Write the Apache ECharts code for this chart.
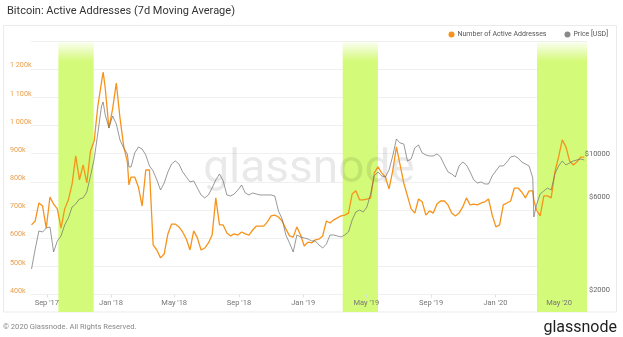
<!DOCTYPE html>
<html><head><meta charset="utf-8">
<script src="https://cdn.jsdelivr.net/npm/echarts@6/dist/echarts.min.js"></script>
<style>html,body{margin:0;padding:0;background:#fff}#c{width:623px;height:337px}</style>
</head><body><div id="c"></div>
<script>
const dates = [
'2017-08-03','2017-08-10','2017-08-17','2017-08-24','2017-08-31','2017-09-07','2017-09-14','2017-09-21','2017-09-28','2017-10-05',
'2017-10-12','2017-10-19','2017-10-26','2017-11-02','2017-11-09','2017-11-16','2017-11-23','2017-11-30','2017-12-07','2017-12-14',
'2017-12-17','2017-12-21','2017-12-28','2018-01-04','2018-01-11','2018-01-18','2018-01-25','2018-02-01','2018-02-04','2018-02-08',
'2018-02-15','2018-02-22','2018-03-01','2018-03-08','2018-03-15','2018-03-22','2018-03-29','2018-04-05','2018-04-12','2018-04-19',
'2018-04-26','2018-05-03','2018-05-10','2018-05-17','2018-05-24','2018-05-31','2018-06-07','2018-06-14','2018-06-21','2018-06-28',
'2018-07-05','2018-07-12','2018-07-19','2018-07-26','2018-08-02','2018-08-09','2018-08-16','2018-08-23','2018-08-30','2018-09-06',
'2018-09-13','2018-09-20','2018-09-27','2018-10-04','2018-10-11','2018-10-18','2018-10-25','2018-11-01','2018-11-08','2018-11-15',
'2018-11-22','2018-11-29','2018-12-06','2018-12-13','2018-12-20','2018-12-27','2019-01-03','2019-01-10','2019-01-17','2019-01-24',
'2019-01-31','2019-02-07','2019-02-14','2019-02-21','2019-02-28','2019-03-07','2019-03-14','2019-03-21','2019-03-28','2019-04-04',
'2019-04-11','2019-04-18','2019-04-25','2019-05-02','2019-05-09','2019-05-16','2019-05-23','2019-05-30','2019-06-06','2019-06-13',
'2019-06-20','2019-06-27','2019-07-04','2019-07-11','2019-07-18','2019-07-25','2019-08-01','2019-08-08','2019-08-15','2019-08-22',
'2019-08-29','2019-09-05','2019-09-12','2019-09-19','2019-09-26','2019-10-03','2019-10-10','2019-10-17','2019-10-24','2019-10-31',
'2019-11-07','2019-11-14','2019-11-21','2019-11-28','2019-12-05','2019-12-12','2019-12-19','2019-12-26','2020-01-02','2020-01-09',
'2020-01-16','2020-01-23','2020-01-30','2020-02-06','2020-02-13','2020-02-20','2020-02-27','2020-03-05','2020-03-12','2020-03-14',
'2020-03-19','2020-03-26','2020-04-02','2020-04-09','2020-04-16','2020-04-23','2020-04-30','2020-05-07','2020-05-14','2020-05-21',
'2020-05-28','2020-06-04','2020-06-11','2020-06-18'
];
const activeAddresses = [
647000,661000,725000,714000,636000,746000,721000,704000,636000,704000,
736000,792000,892000,807000,860000,796000,910000,945000,1070000,1155000,
1190000,1133000,991000,1059000,1151000,1027000,927000,871000,789000,817000,
817000,782000,714000,842000,842000,576000,558000,530000,544000,615000,
650000,650000,640000,622000,597000,558000,626000,601000,558000,565000,
583000,611000,743000,647000,647000,618000,608000,615000,611000,622000,
615000,611000,629000,643000,643000,643000,658000,679000,682000,675000,
661000,633000,608000,604000,640000,611000,572000,586000,583000,594000,
597000,608000,661000,654000,665000,672000,679000,682000,689000,757000,
768000,736000,736000,739000,743000,832000,853000,832000,817000,775000,
839000,924000,860000,796000,750000,704000,689000,739000,729000,682000,
697000,689000,721000,732000,732000,718000,689000,679000,689000,711000,
743000,718000,721000,718000,725000,729000,739000,682000,640000,647000,
718000,725000,732000,778000,778000,764000,743000,768000,768000,736000,
700000,679000,750000,750000,743000,835000,888000,949000,924000,874000,
860000,871000,888000,888000
];
const priceUSD = [
2702,3420,4229,4178,4381,4433,3302,3758,3986,4538,
4930,5611,5816,6166,6240,6697,8090,9882,13427,18464,
19351,16604,14240,16408,14928,12364,11254,10484,8993,8993,
10608,11386,11117,10362,9099,8580,7717,6856,7448,8480,
9316,9652,9316,8480,7994,7534,7625,7020,6464,6240,
6464,7020,7717,8281,7625,6464,6389,6540,6856,7273,
6618,6464,6618,6540,6464,6464,6464,6464,6389,5354,
4871,4034,3670,3302,4034,3940,3894,3848,3758,3758,
3586,3460,3627,4034,4034,3986,3940,4034,4178,4814,
5291,5415,5291,5611,6540,8090,8480,8090,7994,8680,
10240,12511,11934,11795,9652,9882,11254,11658,10608,10362,
10240,10240,10484,10116,9208,8480,8281,7994,9099,9538,
9208,8480,7717,7448,7534,7360,7360,8090,8580,9099,
9099,9538,10116,10240,10000,9538,9316,9099,7900,4988,
5746,6540,6776,7020,6856,8281,9099,9652,9208,9426,
9652,9766,9882,9766
];
const xTickDates = ['2017-09-01','2018-01-01','2018-05-01','2018-09-01','2019-01-01','2019-05-01','2019-09-01','2020-01-01','2020-05-01'];
const addressTicks = [400000,500000,600000,700000,800000,900000,1000000,1100000,1200000];
const priceTicks = [2000,6000,10000];
const bands = [['2017-09-23','2017-11-29'],['2019-03-17','2019-05-23'],['2020-03-20','2020-06-23']];
const xRange = ['2017-08-02','2020-06-23'];

const ts = s => Date.parse(s + 'T00:00:00Z');
const MONTHS = ['Jan','Feb','Mar','Apr','May','Jun','Jul','Aug','Sep','Oct','Nov','Dec'];
function fmtDate(v){const d=new Date(v);return MONTHS[d.getUTCMonth()]+" '"+String(d.getUTCFullYear()).slice(2);}
function fmtK(v){const n=Math.round(v/1000);if(n>=1000){return Math.floor(n/1000)+' '+String(n%1000).padStart(3,'0')+'k';}return n+'k';}

const chart = echarts.init(document.getElementById('c'), null, {renderer:'canvas'});
const FONT = 'Roboto, "Noto Sans", sans-serif';
const bandColor = {type:'linear',x:0,y:0,x2:0,y2:1,colorStops:[
  {offset:0,color:'rgba(212,250,122,0.05)'},{offset:0.075,color:'rgba(212,250,122,1)'},{offset:1,color:'rgba(212,250,122,1)'}]};
const xTicksTs = xTickDates.map(ts);

chart.setOption({
  animation:false,
  textStyle:{fontFamily:FONT},
  title:{text:'Bitcoin: Active Addresses (7d Moving Average)',left:2,top:1,
    textStyle:{fontSize:11,fontWeight:'normal',color:'#333',fontFamily:FONT}},
  legend:{top:31,right:15,padding:0,itemWidth:6,itemHeight:6,itemGap:18,icon:'circle',
    textStyle:{fontSize:7,color:'#555',padding:[0,0,0,-2]},
    data:['Number of Active Addresses','Price [USD]']},
  grid:[
    {left:31,right:36,top:41,bottom:42.5},
    {left:31,right:36,top:41,bottom:25}
  ],
  xAxis:[
    {type:'value',gridIndex:0,min:ts(xRange[0]),max:ts(xRange[1]),z:10,
     axisLine:{show:false},
     axisTick:{show:true,customValues:xTicksTs,length:3,lineStyle:{color:'#e2e2e2'}},
     splitLine:{show:false},
     axisLabel:{customValues:xTicksTs,formatter:fmtDate,color:'#777',fontSize:7.5,margin:5,showMinLabel:true,showMaxLabel:true}},
    {type:'value',gridIndex:1,min:ts(xRange[0]),max:ts(xRange[1]),show:false}
  ],
  yAxis:[
    {type:'value',gridIndex:0,position:'left',min:400000,max:1300000,interval:100000,
     axisLine:{show:false},axisTick:{show:false},
     splitLine:{lineStyle:{color:'#f0f0f0',width:1}},
     axisLabel:{color:'#e9a04f',fontSize:7.2,align:'left',margin:21,verticalAlign:'bottom',
       formatter:v=>addressTicks.indexOf(v)>=0?fmtK(v):''}},
    {type:'log',gridIndex:0,position:'right',min:2000,max:39700,logBase:10,z:10,
     axisLine:{show:false},axisTick:{show:false},splitLine:{show:false},
     axisLabel:{customValues:priceTicks,color:'#666',fontSize:7.5,align:'right',margin:23,verticalAlign:'bottom',
       formatter:v=>'$'+Math.round(v)}},
    {type:'value',gridIndex:1,min:0,max:1,show:false}
  ],
  graphic:[
    {type:'rect',shape:{x:3.5,y:25.5,width:613,height:286.5},style:{fill:'none',stroke:'#ebebeb',lineWidth:1},z:0,silent:true},
    {type:'text',x:309,y:170,z:1,silent:true,style:{text:'glassnode',font:'46px Roboto',fill:'rgba(0,0,0,0.085)',align:'center',verticalAlign:'middle'}},
    {type:'text',x:3,y:327,silent:true,style:{text:'\u00a9 2020 Glassnode. All Rights Reserved.',font:'7.6px Roboto',fill:'#888',verticalAlign:'middle'}},
    {type:'text',x:617,y:328,silent:true,style:{text:'glassnode',font:'16px Roboto',fill:'#1e1e1e',align:'right',verticalAlign:'middle'}}
  ],
  series:[
    {type:'line',xAxisIndex:1,yAxisIndex:2,data:[],z:0,silent:true,
     markArea:{silent:true,z:0,itemStyle:{color:bandColor},data:bands.map(b=>[{xAxis:ts(b[0])},{xAxis:ts(b[1])}])}},
    {name:'Number of Active Addresses',type:'line',xAxisIndex:0,yAxisIndex:0,z:3,
     data:dates.map((d,i)=>[ts(d),activeAddresses[i]]),showSymbol:false,symbol:'none',
     itemStyle:{color:'#f7931a'},lineStyle:{color:'#f7931a',width:1.3}},
    {name:'Price [USD]',type:'line',xAxisIndex:0,yAxisIndex:1,z:4,
     data:dates.map((d,i)=>[ts(d),priceUSD[i]]),showSymbol:false,symbol:'none',
     itemStyle:{color:'#8a8a8a'},lineStyle:{color:'rgba(110,110,110,0.7)',width:1}}
  ]
});
</script></body></html>
